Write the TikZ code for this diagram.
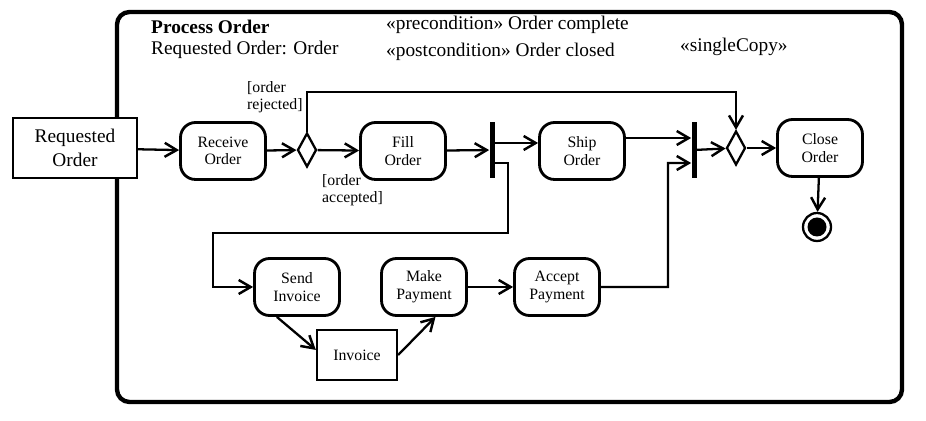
\documentclass[tikz,border=0pt]{standalone}
\usepackage{fontspec}
\setmainfont{Liberation Serif}
\usetikzlibrary{shapes.geometric,arrows.meta}

\begin{document}
\begin{tikzpicture}[x=0.02cm,y=-0.02cm,
	action/.style={draw=black, line width=1.6pt, rounded corners=0.3cm, align=center, minimum width=1.7cm, minimum height=1.14cm, inner sep=1pt, font=\fontsize{9}{10}\selectfont},
	object/.style={draw=black, line width=1.3pt, fill=white, align=center, inner sep=1pt},
	bar/.style={fill=black, inner sep=0pt, minimum width=0.1cm, minimum height=1.12cm},
	choice/.style={diamond, draw=black, line width=1.3pt, fill=white, inner sep=0pt, minimum width=0.38cm, minimum height=0.68cm},
	flow/.style={line width=1.3pt, -{Straight Barb[length=2.4mm,width=2.8mm,line width=1.4pt]}},
	guard/.style={align=left, anchor=west, font=\fontsize{9}{10}\selectfont},
	note/.style={anchor=west, font=\fontsize{11}{13}\selectfont}]
		\useasboundingbox (0,0) rectangle (926,421);
		\fill[white] (0,0) rectangle (926,421);

		% activity frame
		\draw[line width=2.5pt, rounded corners=0.25cm] (117,12) rectangle (902,402);
		\node[note, font=\fontsize{11}{13}\selectfont\bfseries] (title) at (145,27) {Process Order};
		\node[note] (param) at (145,50) {Requested Order: Order};
		\node[note] (pre) at (380,25) {«precondition» Order complete};
		\node[note] (post) at (380,52) {«postcondition» Order closed};
		\node[note] (copy) at (674,47) {«singleCopy»};

		% top row
		\node[object, minimum width=2.48cm, minimum height=1.2cm, font=\fontsize{11}{14}\selectfont] (req) at (75,148) {Requested\\Order};
		\node[action] (receive) at (223,151) {Receive\\Order};
		\node[choice] (dec1) at (307,150) {};
		\node[action] (fill) at (403,151) {Fill\\Order};
		\node[bar] (fork) at (492,150) {};
		\node[action] (ship) at (582,151) {Ship\\Order};
		\node[bar] (join) at (694,150) {};
		\node[choice] (dec2) at (736,148) {};
		\node[action] (close) at (820,148) {Close\\Order};
		\node[circle, draw=black, line width=1.3pt, fill=white, minimum size=0.56cm, inner sep=0pt] (final) at (817,227) {};
		\fill (final.center) circle (0.19cm);

		% bottom row
		\node[action] (send) at (297,287) {Send\\Invoice};
		\node[object, minimum width=1.6cm, minimum height=1cm, font=\fontsize{9}{10}\selectfont] (invoice) at (357,355) {Invoice};
		\node[action] (make) at (424,287) {Make\\Payment};
		\node[action] (accept) at (557,287) {Accept\\Payment};

		% guards
		\node[guard] (rej) at (241,97) {[order\\rejected]};
		\node[guard] (acc) at (316,190) {[order\\accepted]};

		\coordinate (f0) at ([yshift=0.14cm]fork.east);
		\coordinate (f1) at ([yshift=-0.26cm]fork.east);
		\coordinate (j0) at ([yshift=0.24cm]join.west);
		\coordinate (j1) at ([yshift=-0.26cm]join.west);

		\draw[flow] (req) -- (receive);
		\draw[flow] (receive) -- (dec1);
		\draw[flow] (dec1) -- (fill);
		\draw[flow] (dec1.north) -- ++(0,-40) -| (dec2.north);
		\draw[flow] (fill) -- (fork);
		\draw[flow] (f0) -- (f0 -| ship.west);
		\draw[flow] (f1) -| (508,233) -| (213,287) -- (send.west);
		\draw[flow] (ship.east |- j0) -- (j0);
		\draw[flow] (accept.east) -| (668,163) -- (j1);
		\draw[flow] (join) -- (dec2);
		\draw[flow] (dec2) -- (close);
		\draw[flow] (close) -- (final);
		\draw[flow] (send.236) -- (invoice.173);
		\draw[flow] (invoice.east) -- (make.291);
		\draw[flow] (make) -- (accept);
	\end{tikzpicture}
\end{document}
